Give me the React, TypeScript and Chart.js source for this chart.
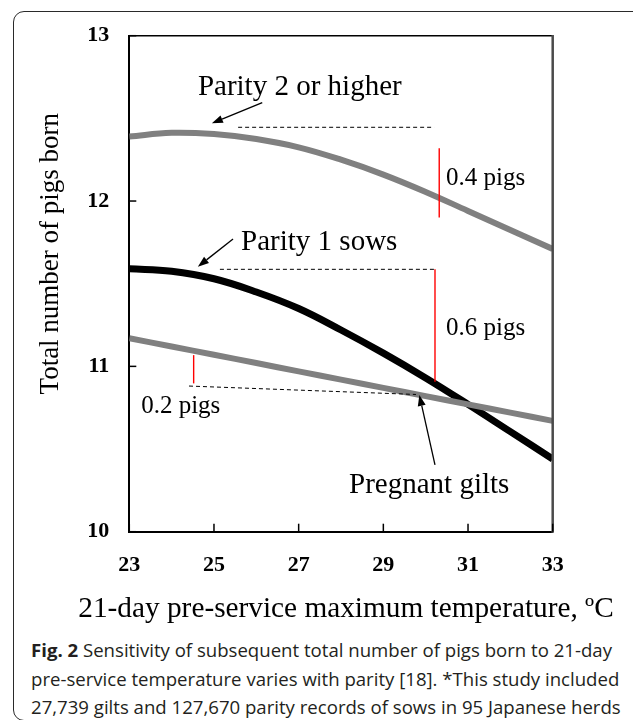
import React, { useEffect, useRef } from "react";
import { Chart, registerables } from "chart.js";

Chart.register(...registerables);

// ---- data ----
const temperatures = [23, 24, 25, 26, 27, 28, 29, 30, 31, 32, 33];
const parity2OrHigher = [12.39, 12.413, 12.405, 12.375, 12.325, 12.25, 12.16, 12.055, 11.94, 11.825, 11.71];
const parity1Sows = [11.59, 11.575, 11.53, 11.45, 11.35, 11.22, 11.08, 10.93, 10.77, 10.605, 10.44];
const pregnantGilts = [11.17, 11.12, 11.07, 11.02, 10.97, 10.92, 10.87, 10.82, 10.77, 10.72, 10.67];
const xTickValues = [23, 25, 27, 29, 31, 33];
const yTickValues = [10, 11, 12, 13];

const xAxisTitle = "21-day pre-service maximum temperature, \u00baC";
const yAxisTitle = "Total number of pigs born";

// annotations (in data units)
const noteLabels = ["Parity 2 or higher", "Parity 1 sows", "Pregnant gilts", "0.4 pigs", "0.6 pigs", "0.2 pigs"];
const noteX = [24.62, 25.64, 28.19, 30.48, 30.48, 23.28];
const noteY = [12.641, 11.704, 10.232, 12.097, 11.19, 10.716];

const dashedSegments = [
  [25.57, 12.446, 30.2, 12.446],
  [25.14, 11.587, 30.22, 11.587],
  [24.41, 10.881, 29.77, 10.83],
];
const redSegments = [
  [30.32, 12.319, 30.32, 11.9],
  [30.22, 11.587, 30.22, 10.907],
  [24.52, 11.068, 24.52, 10.897],
];
const arrowSegments = [
  [26.14, 12.595, 24.95, 12.47],
  [25.45, 11.77, 24.62, 11.603],
  [30.22, 10.404, 29.85, 10.827],
];

const SERIF = "'Liberation Serif', 'Times New Roman', Times, serif";

const W = 633;
const CANVAS_H = 630;
const AREA_LEFT = 129.3;
const AREA_RIGHT = 552.7;
const AREA_TOP = 35.7;
const AREA_BOTTOM = 531.7;

const toPoints = (ys: number[]) => temperatures.map((t, i) => ({ x: t, y: ys[i] }));

const decorPlugin = {
  id: "decor",
  afterDatasetsDraw(chart: any) {
    const { ctx, chartArea, scales } = chart;
    const xs = scales.x;
    const ys = scales.y;
    const px = (v: number) => xs.getPixelForValue(v);
    const py = (v: number) => ys.getPixelForValue(v);
    ctx.save();

    // frame: top & right lines
    ctx.strokeStyle = "#000";
    ctx.lineWidth = 1.5;
    ctx.beginPath();
    ctx.moveTo(chartArea.left, chartArea.top);
    ctx.lineTo(chartArea.right, chartArea.top);
    ctx.stroke();
    ctx.strokeStyle = "#4a4a4a";
    ctx.lineWidth = 2.5;
    ctx.beginPath();
    ctx.moveTo(chartArea.right, chartArea.top - 0.75);
    ctx.lineTo(chartArea.right, chartArea.bottom + 1);
    ctx.stroke();

    // inward ticks
    ctx.strokeStyle = "#000";
    ctx.lineWidth = 1.5;
    yTickValues.forEach((v) => {
      const y = py(v);
      ctx.beginPath();
      ctx.moveTo(chartArea.left, y);
      ctx.lineTo(chartArea.left + 7, y);
      ctx.stroke();
    });
    xTickValues.forEach((v) => {
      const x = px(v);
      ctx.beginPath();
      ctx.moveTo(x, chartArea.bottom);
      ctx.lineTo(x, chartArea.bottom - 8);
      ctx.stroke();
    });

    // dashed guide lines
    ctx.strokeStyle = "#000";
    ctx.lineWidth = 1;
    ctx.setLineDash([4, 3]);
    dashedSegments.forEach(([x1, y1, x2, y2]) => {
      ctx.beginPath();
      ctx.moveTo(px(x1), py(y1));
      ctx.lineTo(px(x2), py(y2));
      ctx.stroke();
    });
    ctx.setLineDash([]);

    // red difference bars
    ctx.strokeStyle = "#ff0000";
    ctx.lineWidth = 1.4;
    redSegments.forEach(([x1, y1, x2, y2]) => {
      ctx.beginPath();
      ctx.moveTo(px(x1), py(y1));
      ctx.lineTo(px(x2), py(y2));
      ctx.stroke();
    });

    // arrows
    ctx.strokeStyle = "#000";
    ctx.fillStyle = "#000";
    ctx.lineWidth = 1.3;
    arrowSegments.forEach(([x1, y1, x2, y2]) => {
      const ax = px(x1), ay = py(y1), bx = px(x2), by = py(y2);
      const ang = Math.atan2(by - ay, bx - ax);
      const len = 11, half = 4;
      const baseX = bx - len * Math.cos(ang);
      const baseY = by - len * Math.sin(ang);
      ctx.beginPath();
      ctx.moveTo(ax, ay);
      ctx.lineTo(baseX, baseY);
      ctx.stroke();
      ctx.beginPath();
      ctx.moveTo(bx, by);
      ctx.lineTo(baseX + half * Math.sin(ang), baseY - half * Math.cos(ang));
      ctx.lineTo(baseX - half * Math.sin(ang), baseY + half * Math.cos(ang));
      ctx.closePath();
      ctx.fill();
    });

    // annotation text
    ctx.fillStyle = "#000";
    ctx.textAlign = "left";
    ctx.textBaseline = "alphabetic";
    noteLabels.forEach((t, i) => {
      const size = t.indexOf("pigs") >= 0 ? 25 : 29;
      ctx.font = `${size}px ${SERIF}`;
      ctx.fillText(t, px(noteX[i]), py(noteY[i]));
    });

    // axis titles
    ctx.font = `29.3px ${SERIF}`;
    ctx.textAlign = "center";
    ctx.fillText(xAxisTitle, (chartArea.left + chartArea.right) / 2 + 5, 616.5);

    ctx.save();
    ctx.translate(58, (chartArea.top + chartArea.bottom) / 2 - 30);
    ctx.rotate(-Math.PI / 2);
    ctx.font = `27px ${SERIF}`;
    ctx.textAlign = "center";
    ctx.fillText(yAxisTitle, 0, 0);
    ctx.restore();

    ctx.restore();
  },
};

export default function App() {
  const canvasRef = useRef<HTMLCanvasElement | null>(null);

  useEffect(() => {
    const canvas = canvasRef.current;
    if (!canvas) return;
    const lineStyle = { pointRadius: 0, tension: 0.4, fill: false };
    const chart = new Chart(canvas, {
      type: "line",
      data: {
        datasets: [
          {
            label: "Pregnant gilts",
            data: toPoints(pregnantGilts),
            borderColor: "#808080",
            borderWidth: 6,
            ...lineStyle,
          },
          {
            label: "Parity 1 sows",
            data: toPoints(parity1Sows),
            borderColor: "#000000",
            borderWidth: 7,
            ...lineStyle,
          },
          {
            label: "Parity 2 or higher",
            data: toPoints(parity2OrHigher),
            borderColor: "#808080",
            borderWidth: 6,
            ...lineStyle,
          },
        ],
      },
      options: {
        responsive: false,
        animation: false,
        devicePixelRatio: 1,
        layout: {
          padding: { left: 0, top: AREA_TOP, right: W - AREA_RIGHT, bottom: 0 },
        },
        plugins: {
          legend: { display: false },
          tooltip: { enabled: false },
        },
        scales: {
          x: {
            type: "linear",
            min: 23,
            max: 33,
            afterFit: (s: any) => {
              s.height = CANVAS_H - AREA_BOTTOM;
            },
            afterBuildTicks: (s: any) => {
              s.ticks = xTickValues.map((v) => ({ value: v }));
            },
            grid: { display: false, drawTicks: false },
            border: { display: true, color: "#000", width: 2 },
            ticks: {
              padding: 20,
              color: "#000",
              font: { family: SERIF, size: 22, weight: "bold" },
              maxRotation: 0,
              autoSkip: false,
            },
          },
          y: {
            type: "linear",
            min: 10,
            max: 13,
            afterFit: (s: any) => {
              s.width = AREA_LEFT;
            },
            afterBuildTicks: (s: any) => {
              s.ticks = yTickValues.map((v) => ({ value: v }));
            },
            grid: { display: false, drawTicks: false },
            border: { display: true, color: "#000", width: 2 },
            ticks: {
              padding: 20,
              color: "#000",
              font: { family: SERIF, size: 22, weight: "bold" },
            },
          },
        },
      } as any,
      plugins: [decorPlugin],
    });
    return () => chart.destroy();
  }, []);

  const captionLine: React.CSSProperties = {
    display: "block",
    whiteSpace: "nowrap",
  };

  return (
    <div
      style={{
        position: "absolute",
        left: 0,
        top: 0,
        width: W,
        height: 720,
        overflow: "hidden",
        background: "#fff",
      }}
    >
      <div
        style={{
          position: "absolute",
          left: 13,
          top: 11,
          width: 660,
          height: 710,
          border: "1.5px solid #2a2a2a",
          borderRadius: 11,
          boxSizing: "border-box",
        }}
      />
      <canvas
        ref={canvasRef}
        width={W}
        height={CANVAS_H}
        style={{ position: "absolute", left: 0, top: 0, width: W, height: CANVAS_H }}
      />
      <div
        style={{
          position: "absolute",
          left: 31,
          top: 636,
          fontFamily: "'Open Sans', 'Noto Sans', sans-serif",
          fontSize: 18.6,
          lineHeight: "28.5px",
          color: "#231f20",
        }}
      >
        <span style={captionLine}>
          <b>Fig. 2</b> Sensitivity of subsequent total number of pigs born to 21-day
        </span>
        <span style={captionLine}>
          pre-service temperature varies with parity [18]. *This study included
        </span>
        <span style={captionLine}>
          27,739 gilts and 127,670 parity records of sows in 95 Japanese herds
        </span>
      </div>
    </div>
  );
}
